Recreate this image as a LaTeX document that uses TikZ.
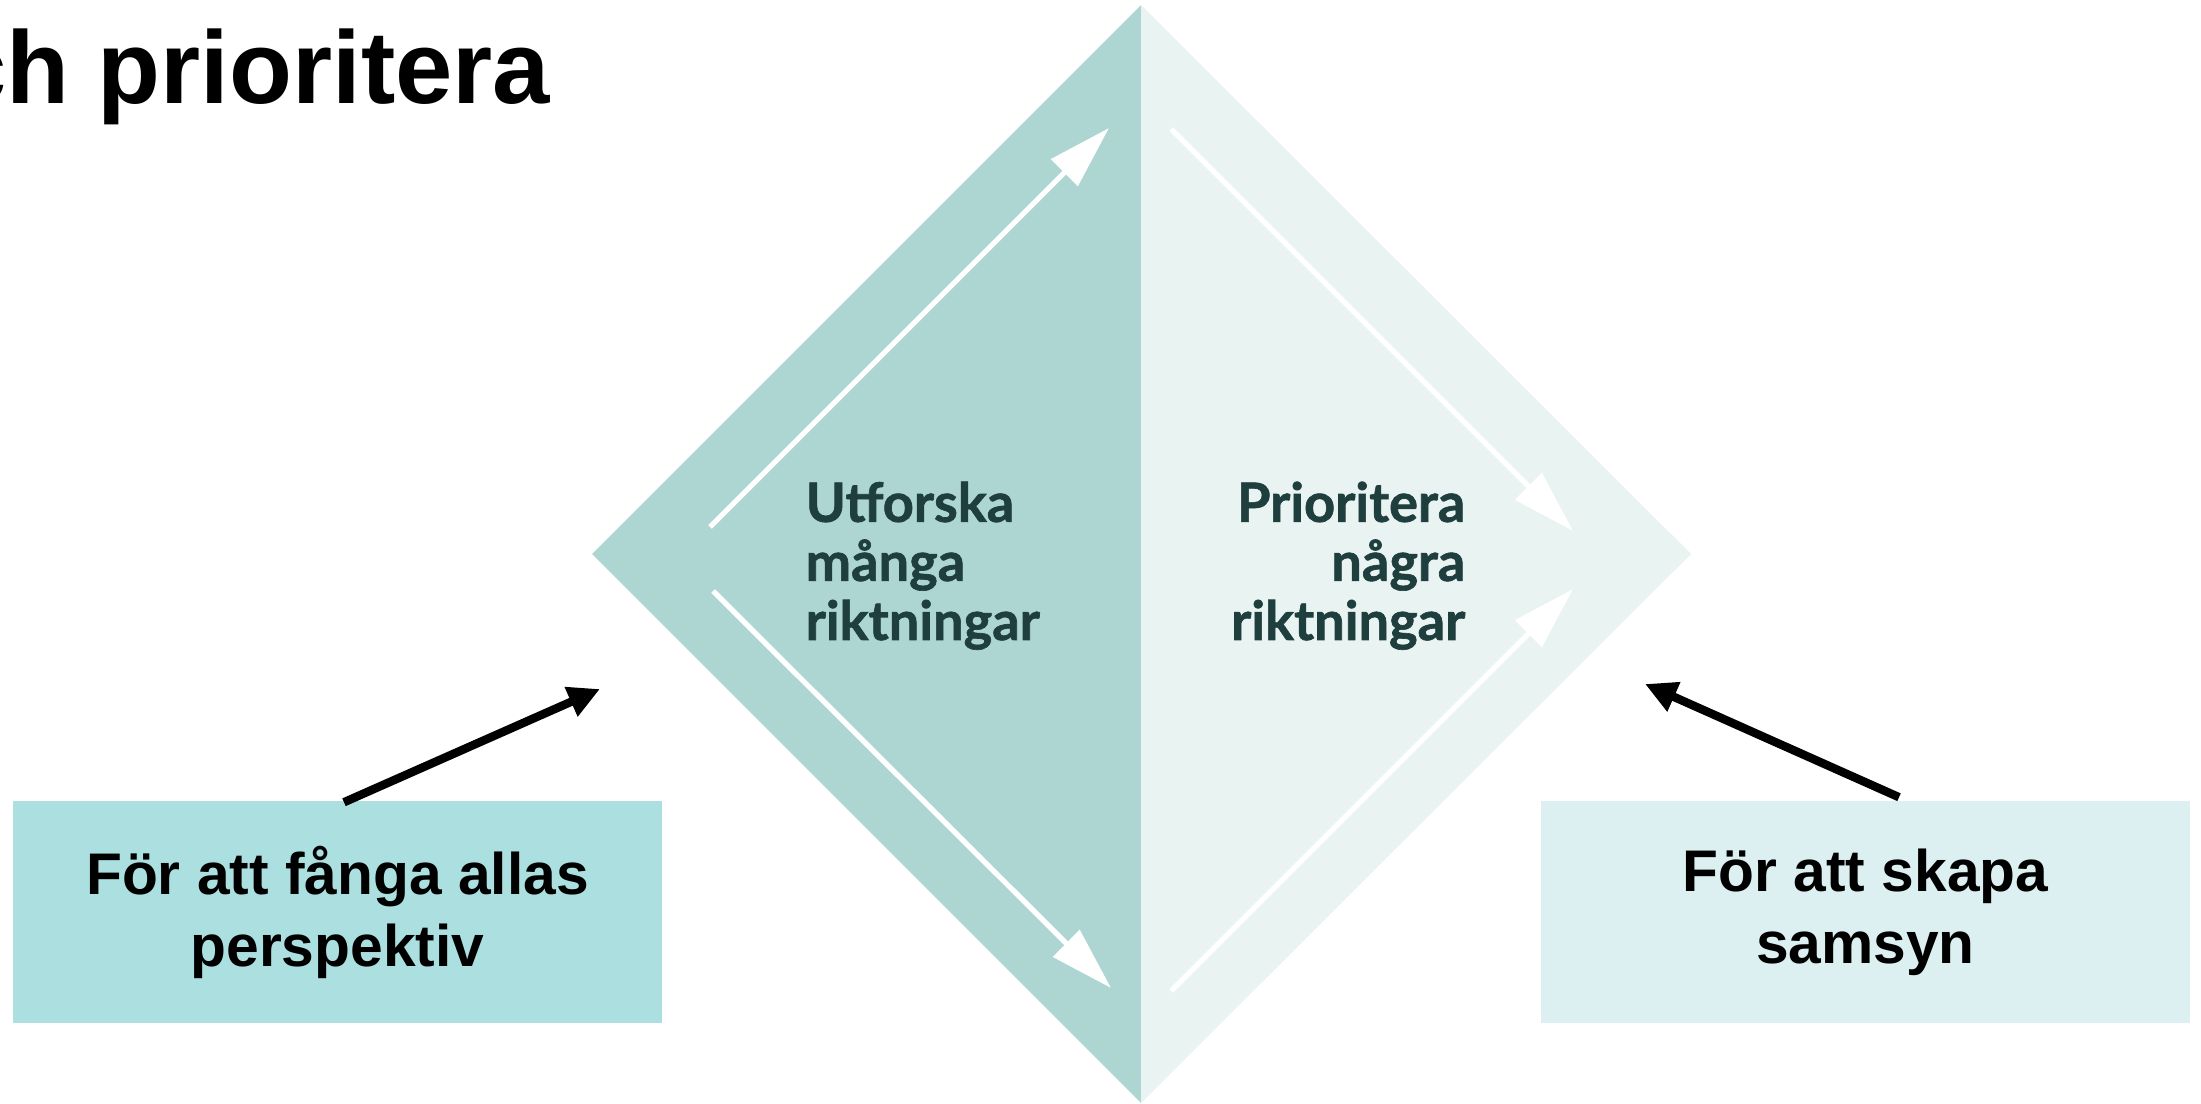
\documentclass[tikz,border=0pt]{standalone}
\usepackage{fontspec}
\setmainfont{Liberation Sans}
\newfontfamily\latofont[BoldFeatures={FakeBold=1.2}]{Lato}
\usetikzlibrary{arrows.meta}
\definecolor{leftteal}{HTML}{ADD6D3}
\definecolor{rightteal}{HTML}{E8F3F2}
\definecolor{lboxfill}{HTML}{ABDFE0}
\definecolor{rboxfill}{HTML}{DCF0F1}
\definecolor{darktext}{HTML}{1F3E3E}
\tikzset{
  whitearrow/.style={draw=white, line width=1.5pt, -{Triangle[length=18pt,width=10.5pt]}},
  blackarrow/.style={draw=black, line width=2.4pt, -{Triangle[length=9pt,width=8.6pt]}},
  infobox/.style={minimum width=648*0.2845pt, minimum height=222*0.2845pt, inner sep=0pt, align=center,
     font=\bfseries\fontsize{16.7pt}{20.5pt}\selectfont},
  diamtext/.style={inner sep=0pt, text=darktext, font=\latofont\bfseries\fontsize{15.4pt}{16.8pt}\selectfont}
}
\begin{document}
\begin{tikzpicture}[x=0.01cm, y=-0.01cm]
\useasboundingbox (0,0) rectangle (2201,1104);
\clip (0,0) rectangle (2201,1104);
% title (cut at left edge)
\node[anchor=base east, inner sep=0pt, font=\bfseries\fontsize{29.3pt}{34pt}\selectfont] (title) at (551,104) {ch prioritera};
% diamond halves
\fill[leftteal] (1141,5) -- (592,554) -- (1141,1103) -- cycle;
\fill[rightteal] (1141,5) -- (1691,554) -- (1141,1103) -- cycle;
% white arrows
\coordinate (a1s) at (710,527); \coordinate (a1e) at (1109,128);
\coordinate (a2s) at (713,591); \coordinate (a2e) at (1111,988);
\coordinate (a3s) at (1171,129); \coordinate (a3e) at (1573,531);
\coordinate (a4s) at (1171,991); \coordinate (a4e) at (1573,589);
\draw[whitearrow] (a1s) -- (a1e);
\draw[whitearrow] (a2s) -- (a2e);
\draw[whitearrow] (a3s) -- (a3e);
\draw[whitearrow] (a4s) -- (a4e);
% diamond texts
\node[diamtext, anchor=base west, align=left] (explore) at (805,640) {Utforska\\många\\riktningar};
\node[diamtext, anchor=base east, align=right] (prio) at (1466,640) {Prioritera\\några\\riktningar};
% boxes
\node[infobox, fill=lboxfill] (lbox) at (337.5,912) {För att fånga allas\\perspektiv};
\node[infobox, fill=rboxfill] (rbox) at (1865.5,912) {För att skapa\\samsyn};
% black arrows
\coordinate (lt) at (600,689);
\coordinate (rt) at (1645,684);
\draw[blackarrow] ([xshift=6.5*0.2845pt, yshift=-2*0.2845pt]lbox.north) -- (lt);
\draw[blackarrow] ([xshift=33.5*0.2845pt, yshift=3*0.2845pt]rbox.north) -- (rt);
\end{tikzpicture}
\end{document}
